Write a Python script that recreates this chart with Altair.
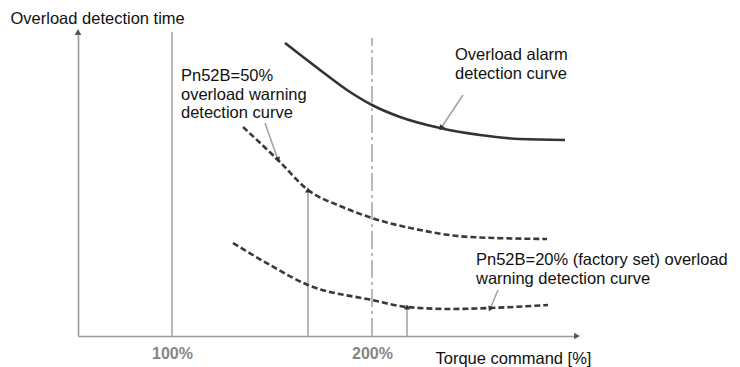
import math
import altair as alt
import pandas as pd

# ---- data (torque command in %, detection time in arbitrary units, 0 = axis) ----
alarm_torque = [156.5, 174, 187.5, 200, 214, 234, 254, 274, 296.5]
alarm_time = [293, 266, 246, 231, 219, 208, 201, 197, 196]

warn50_torque = [135.5, 153, 168, 184, 200, 224, 249, 287.5]
warn50_time = [209, 176, 146, 130, 118, 106, 99, 97]

warn20_torque = [130.5, 149, 168, 200, 217.5, 239, 259, 288]
warn20_time = [93, 71, 51, 36, 29, 27, 28, 31]

x_ticks = [100, 200]

# reference lines (torque %, top of line)
ref_solid_x = [100]
ref_solid_top = [304]
ref_dashdot_x = [200]
ref_dashdot_top = [298]

# arrows: start (x, y) -> end (x2, y2)
arrow_x = [168, 217.5, 146.5, 245.5, 263]
arrow_y = [0, 0, 213, 241, 46]
arrow_x2 = [168, 217.5, 153, 234.5, 259]
arrow_y2 = [146, 29, 176, 208, 27]

# annotation labels
labels = [
    "Pn52B=50%\noverload warning\ndetection curve",
    "Overload alarm\ndetection curve",
    "Pn52B=20% (factory set) overload\nwarning detection curve",
]
label_x = [104.5, 241.5, 252]
label_y = [260, 281, 76]

X_DOMAIN = [53, 302.5]
Y_DOMAIN = [0, 304]
W, H = 499, 304
FONT = "Liberation Sans"

# ---- tables ----
curves = pd.concat([
    pd.DataFrame({"torque": alarm_torque, "time": alarm_time, "curve": "alarm"}),
    pd.DataFrame({"torque": warn50_torque, "time": warn50_time, "curve": "warn50"}),
    pd.DataFrame({"torque": warn20_torque, "time": warn20_time, "curve": "warn20"}),
], ignore_index=True)
curves["order"] = curves.index

px_x = W / (X_DOMAIN[1] - X_DOMAIN[0])
px_y = H / (Y_DOMAIN[1] - Y_DOMAIN[0])

arrows = pd.DataFrame({"x": arrow_x, "y": arrow_y, "x2": arrow_x2, "y2": arrow_y2})
arrows["angle"] = [
    math.degrees(math.atan2((b - a) * px_x, (d - c) * px_y)) % 360
    for a, b, c, d in zip(arrow_x, arrow_x2, arrow_y, arrow_y2)
]

axis_heads = pd.DataFrame({
    "x": [X_DOMAIN[1], X_DOMAIN[0]],
    "y": [Y_DOMAIN[0], Y_DOMAIN[1]],
    "angle": [90, 0],
})

refs_solid = pd.DataFrame({"x": ref_solid_x, "y": [0] * len(ref_solid_x), "y2": ref_solid_top})
refs_dd = pd.DataFrame({"x": ref_dashdot_x, "y": [0] * len(ref_dashdot_x), "y2": ref_dashdot_top})
notes = pd.DataFrame({"label": labels, "x": label_x, "y": label_y})

xs = alt.Scale(domain=X_DOMAIN, nice=False, zero=False)
ys = alt.Scale(domain=Y_DOMAIN, nice=False, zero=False)

x_axis = alt.Axis(
    values=x_ticks, labelExpr="datum.value + '%'", ticks=False, grid=False,
    domainColor="#9a9a9a", domainWidth=1.6,
    labelColor="#858585", labelFont=FONT, labelFontWeight="bold", labelFontSize=16,
    labelPadding=9,
    title="Torque command [%]", titleX=357, titleY=22, titleAlign="left",
    titleBaseline="middle", titleFontWeight="normal", titleFontSize=16.5,
    titleColor="#111111", titleFont=FONT,
)
y_axis = alt.Axis(
    labels=False, ticks=False, grid=False, domainColor="#9a9a9a", domainWidth=1.6,
    title="Overload detection time", titleAngle=0, titleX=-68, titleY=-14,
    titleAlign="left", titleBaseline="middle", titleFontWeight="normal",
    titleFontSize=16.5, titleColor="#111111", titleFont=FONT,
)


def X(field):
    return alt.X(field, type="quantitative", scale=xs, axis=x_axis)


def Y(field):
    return alt.Y(field, type="quantitative", scale=ys, axis=y_axis)


alarm_layer = alt.Chart(curves).transform_filter("datum.curve == 'alarm'").mark_line(
    color="#333333", strokeWidth=2.6, interpolate="monotone"
).encode(x=X("torque"), y=Y("time"), order="order:Q")

warn_layer = alt.Chart(curves).transform_filter("datum.curve != 'alarm'").mark_line(
    color="#3a3a3a", strokeWidth=2.6, strokeDash=[6, 3], interpolate="monotone"
).encode(x=X("torque"), y=Y("time"), detail="curve:N", order="order:Q")

solid_ref = alt.Chart(refs_solid).mark_rule(color="#a8a8a8", strokeWidth=1.6).encode(
    x=X("x"), y=Y("y"), y2="y2:Q"
)

dd_ref = alt.Chart(refs_dd).mark_rule(
    color="#a8a8a8", strokeWidth=1.6, strokeDash=[18, 4, 3, 4]
).encode(x=X("x"), y=Y("y"), y2="y2:Q")

arrow_lines = alt.Chart(arrows).mark_rule(color="#a0a0a0", strokeWidth=1.5).encode(
    x=X("x"), y=Y("y"), x2="x2:Q", y2="y2:Q"
)

arrow_heads = alt.Chart(arrows).mark_point(
    shape="triangle-up", filled=True, size=35, color="#333333", opacity=1
).encode(x=X("x2"), y=Y("y2"), angle=alt.Angle("angle:Q", scale=None))

axis_arrow_heads = alt.Chart(axis_heads).mark_point(
    shape="triangle-up", filled=True, size=45, color="#555555", opacity=1
).encode(x=X("x"), y=Y("y"), angle=alt.Angle("angle:Q", scale=None))

note_layer = alt.Chart(notes).mark_text(
    align="left", baseline="middle", font=FONT, fontSize=16.5, color="#111111",
    lineBreak="\n", lineHeight=18.5,
).encode(x=X("x"), y=Y("y"), text="label:N")

chart = alt.layer(
    alarm_layer, solid_ref, dd_ref, arrow_lines, warn_layer, arrow_heads,
    axis_arrow_heads, note_layer,
).properties(
    width=W, height=H,
    padding={"left": 70, "top": 24, "right": 155, "bottom": 31},
    autosize=alt.AutoSizeParams(type="none"),
    background="white",
).configure_view(stroke=None)

chart.save("out.html", embed_options={"renderer": "svg", "actions": False})
